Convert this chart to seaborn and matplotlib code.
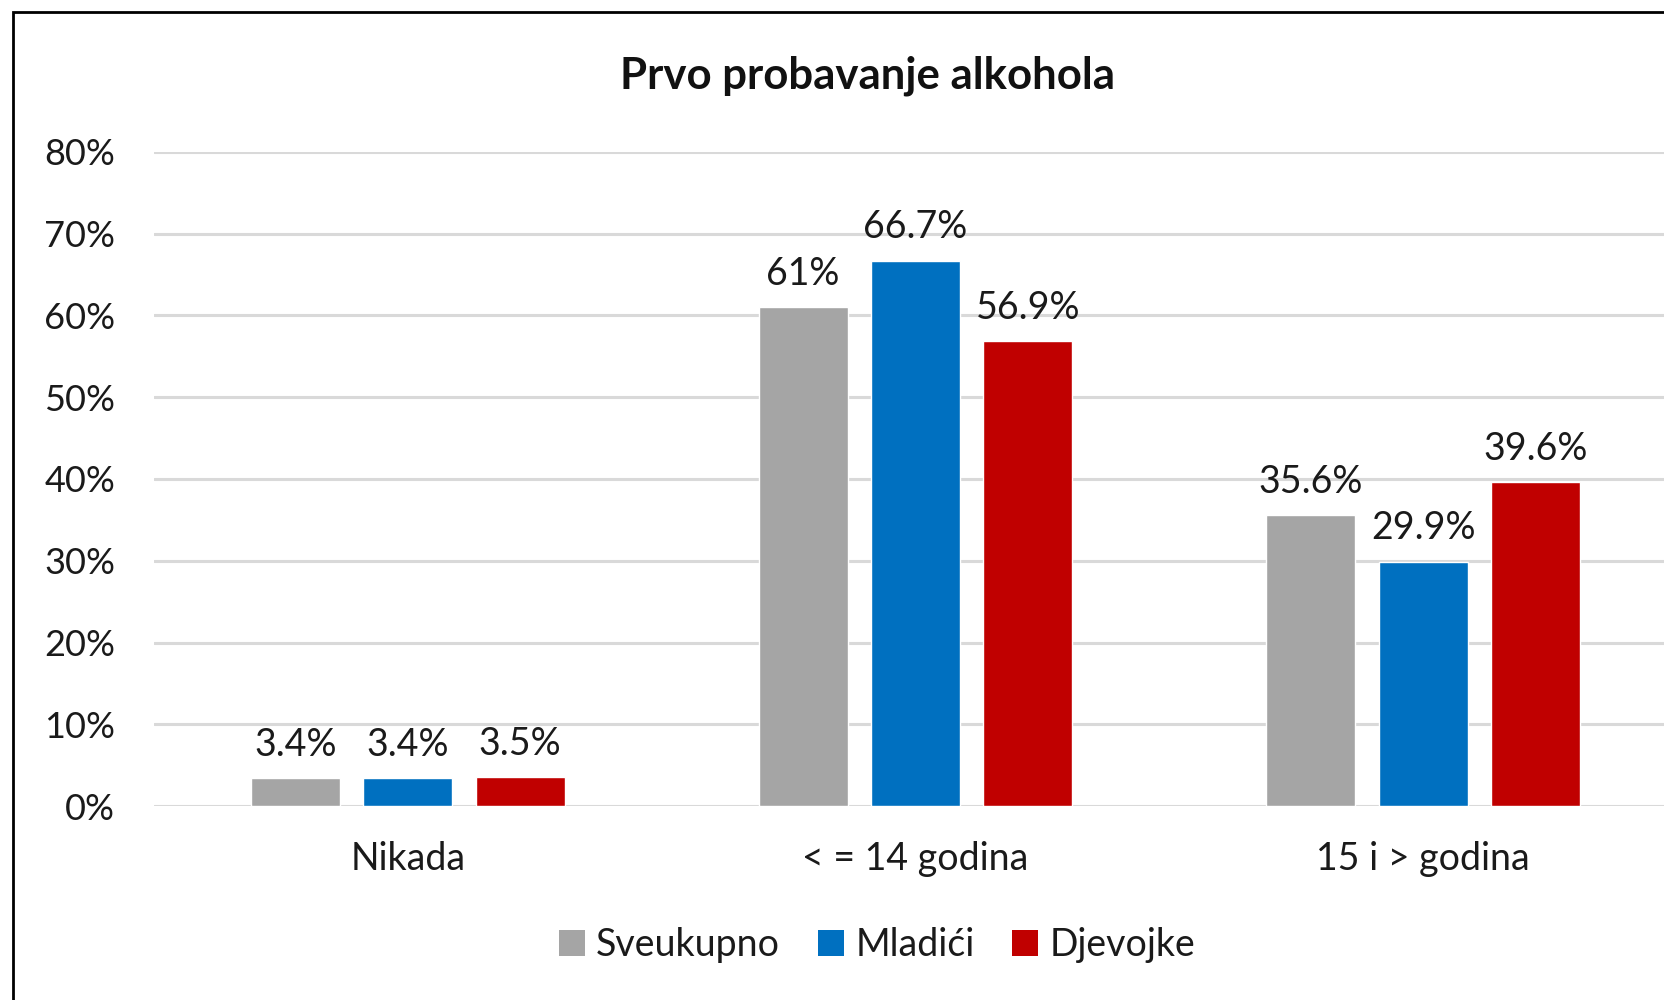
import pandas as pd
import matplotlib.pyplot as plt
import seaborn as sns
from matplotlib.patches import Patch, Rectangle

# data
categories = ["Nikada", "< = 14 godina", "15 i > godina"]
groups = ["Sveukupno", "Mladići", "Djevojke"]
sveukupno = [3.4, 61, 35.6]
mladici = [3.4, 66.7, 29.9]
djevojke = [3.5, 56.9, 39.6]
yticks = [0, 10, 20, 30, 40, 50, 60, 70, 80]
colors = ["#A5A5A5", "#0070C0", "#C00000"]

rows = []
for g, vals in zip(groups, [sveukupno, mladici, djevojke]):
    for c, v in zip(categories, vals):
        rows.append({"kat": c, "grupa": g, "val": v})
df = pd.DataFrame(rows)

sns.set_style("white")
plt.rcParams["font.family"] = ["Lato", "DejaVu Sans"]

fig = plt.figure(figsize=(16.64, 10), dpi=100)
ax = fig.add_axes([154 / 1664, 0.194, (1677 - 154) / 1664, 0.654])

sns.barplot(data=df, x="kat", y="val", hue="grupa", order=categories,
            hue_order=groups, palette=colors, width=0.664, gap=0.21,
            saturation=1, ax=ax, legend=False)

# data labels above the bars
for cont, vals in zip(ax.containers, [sveukupno, mladici, djevojke]):
    ax.bar_label(cont, labels=[f"{v:g}%" for v in vals], padding=11,
                 fontsize=27, color="#1a1a1a")

ax.set_xlim(-0.5, 2.5)
ax.set_ylim(0, 80)
ax.set_yticks(yticks)
ax.set_yticklabels([f"{t}%" for t in yticks])
ax.yaxis.grid(True, color="#D9D9D9", lw=2.2)
ax.set_axisbelow(True)
for s in ax.spines.values():
    s.set_visible(False)
ax.tick_params(axis="y", length=0, pad=28, labelsize=26, labelcolor="#1a1a1a")
ax.tick_params(axis="x", length=0, pad=25, labelsize=27, labelcolor="#1a1a1a")
ax.set_xlabel("")
ax.set_ylabel("")

fig.text(868 / 1664, 0.924, "Prvo probavanje alkohola", ha="center", va="center",
         fontsize=31.5, fontweight="bold", color="#111111")

handles = [Patch(facecolor=c, edgecolor="none") for c in colors]
fig.legend(handles, groups, loc="center", bbox_to_anchor=(877 / 1664, 1 - 945 / 1000),
           ncol=3, frameon=False, fontsize=27, handlelength=0.7, handleheight=0.7,
           handletextpad=0.3, columnspacing=1.0, labelcolor="#1a1a1a")

# outer frame (right and bottom edges are cut off in the original)
fig.add_artist(Rectangle((13 / 1664, -0.2), 2, 1.188, transform=fig.transFigure,
                         fill=False, edgecolor="black", lw=2))

plt.savefig("out.png", dpi=100)
